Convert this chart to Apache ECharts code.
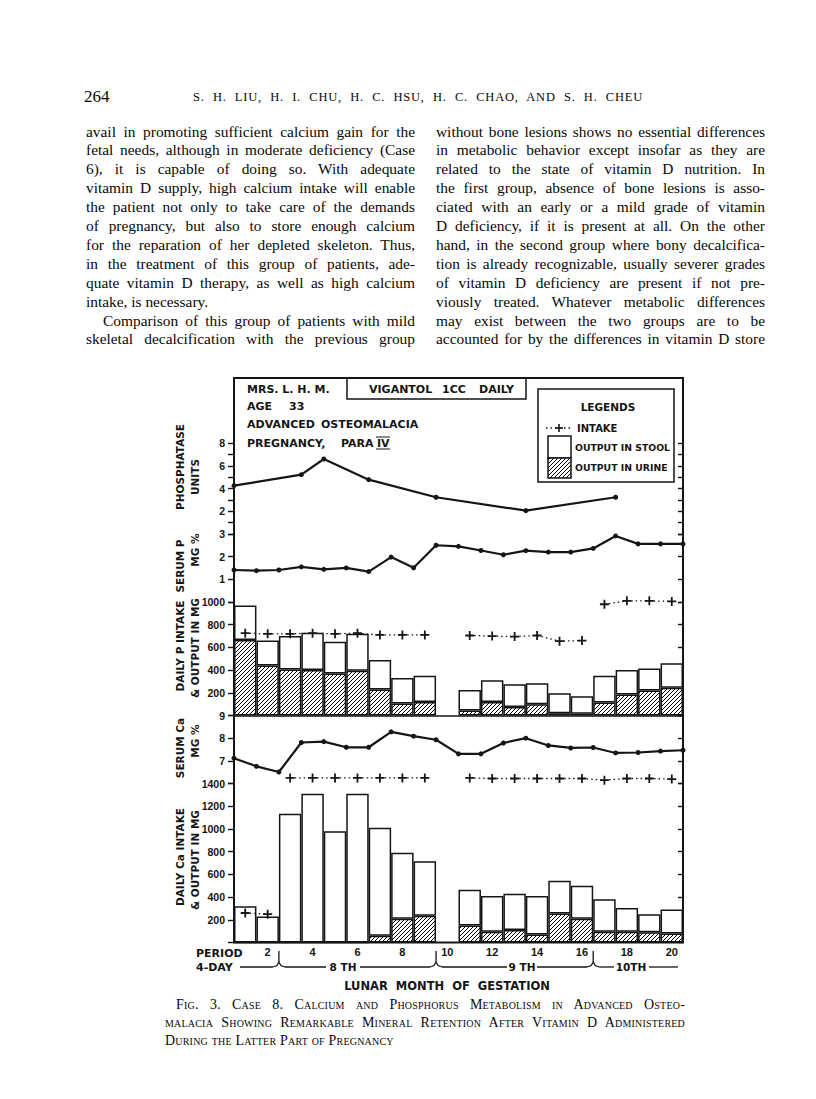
<!DOCTYPE html>
<html><head><meta charset="utf-8">
<script src="https://cdn.jsdelivr.net/npm/echarts/dist/echarts.min.js"></script>
<style>
html,body{margin:0;padding:0;background:#fff;}
#page{position:relative;width:816px;height:1099px;overflow:hidden;background:#fff;}
#chart{position:absolute;left:0;top:0;width:816px;height:1099px;}
.ln{position:absolute;font-family:"Liberation Serif","Times New Roman",serif;color:#080808;white-space:normal;text-align:justify;}
</style></head><body>
<div id="page"><div id="chart"></div></div>
<script>
// ---------- DATA ----------
const periods = ['1','2','3','4','5','6','7','8','9','10','11','12','13','14','15','16','17','18','19','20'];
const periodLabels = ['2','4','6','8','10','12','14','16','18','20'];
// serum values are plotted at period boundaries 0..20
const phosphataseAt = [0, 3, 4, 6, 9, 13, 17];
const phosphatase = [4.25, 5.22, 6.6, 4.78, 3.23, 2.05, 3.23];
const serumP = [1.41,1.38,1.41,1.55,1.44,1.50,1.34,1.98,1.51,2.50,2.45,2.27,2.08,2.26,2.20,2.20,2.36,2.91,2.56,2.56,2.56];
const pUrine = [665,440,405,400,370,395,230,105,120,null,45,120,75,100,20,15,115,185,220,245];
const pStool = [305,220,295,330,280,325,260,225,230,null,180,190,200,185,175,155,235,215,195,215];
const pIntake = [725,720,720,725,720,725,710,710,710,null,705,700,695,705,655,660,980,1010,1010,1005];
const pIntakeRuns = [[0,8],[10,15],[16,19]];
const serumCa = [7.12,6.76,6.51,7.81,7.85,7.60,7.60,8.28,8.09,7.93,7.31,7.31,7.79,8.00,7.68,7.57,7.59,7.35,7.37,7.43,7.47];
const caUrine = [0,0,0,0,0,0,60,210,235,null,150,95,110,70,255,210,95,95,90,80];
const caStool = [320,230,1135,1310,980,1310,950,580,480,null,315,315,320,340,290,290,285,210,160,210];
const caIntake = [260,250,1450,1450,1450,1450,1450,1450,1450,null,1450,1445,1445,1445,1445,1445,1430,1445,1445,1440];
const caIntakeRuns = [[0,1],[2,8],[10,19]];
const phosLabels = [2,4,6,8];
const serumPLabels = [1,2,3];
const pLabels = [200,400,600,800,1000];
const serumCaLabels = [7,8,9];
const caLabels = [200,400,600,800,1000,1200,1400];

// ---------- PAGE TEXT ----------
const leftLines = [
 "avail in promoting sufficient calcium gain for the",
 "fetal needs, although in moderate deficiency (Case",
 "6), it is capable of doing so.  With adequate",
 "vitamin D supply, high calcium intake will enable",
 "the patient not only to take care of the demands",
 "of pregnancy, but also to store enough calcium",
 "for the reparation of her depleted skeleton.  Thus,",
 "in the treatment of this group of patients, ade-",
 "quate vitamin D therapy, as well as high calcium",
 "intake, is necessary.",
 "Comparison of this group of patients with mild",
 "skeletal decalcification with the previous group"];
const rightLines = [
 "without bone lesions shows no essential differences",
 "in metabolic behavior except insofar as they are",
 "related to the state of vitamin D nutrition.  In",
 "the first group, absence of bone lesions is asso-",
 "ciated with an early or a mild grade of vitamin",
 "D deficiency, if it is present at all.  On the other",
 "hand, in the second group where bony decalcifica-",
 "tion is already recognizable, usually severer grades",
 "of vitamin D deficiency are present if not pre-",
 "viously treated.  Whatever metabolic differences",
 "may exist between the two groups are to be",
 "accounted for by the differences in vitamin D store"];
const captionLines = [
 "Fig. 3. Case 8. Calcium and Phosphorus Metabolism in Advanced Osteo-",
 "malacia Showing Remarkable Mineral Retention After Vitamin D Administered",
 "During the Latter Part of Pregnancy"];

const page = document.getElementById('page');
function addLine(text, x, y, w, o) {
  const d = document.createElement('div');
  d.className = 'ln';
  const lh = o.lh || 19;
  let fs = o.fs || 15;
  d.style.left = x + 'px';
  d.style.top = (y - lh/2) + 'px';
  d.style.width = w + 'px';
  d.style.lineHeight = lh + 'px';
  d.style.fontSize = fs + 'px';
  d.style.textAlignLast = o.justify ? 'justify' : 'left';
  if (o.indent) d.style.textIndent = o.indent + 'px';
  if (o.sc) d.style.fontVariant = 'small-caps';
  if (o.ls) d.style.letterSpacing = o.ls + 'px';
  if (o.weight) d.style.fontWeight = o.weight;
  d.textContent = text;
  page.appendChild(d);
  while (d.scrollHeight > lh * 1.4 && fs > 8) { fs -= 0.25; d.style.fontSize = fs + 'px'; }
  return d;
}
addLine('264', 84, 97, 40, {fs:17, lh:20, justify:false});
addLine('S. H. LIU, H. I. CHU, H. C. HSU, H. C. CHAO, AND S. H. CHEU', 193, 97, 450, {fs:12.5, lh:18, justify:true, ls:0.8});
leftLines.forEach((t,i) => addLine(t, 86, 131 + 18.9*i, 329, {fs:15.4, justify: i !== 9, indent: i === 10 ? 17 : 0}));
rightLines.forEach((t,i) => addLine(t, 436, 131 + 18.9*i, 329, {fs:15.4, justify: true}));
captionLines.forEach((t,i) => addLine(t, 165, 1005 + 18*i, 520, {fs:14, lh:18, sc:true, justify: i < 2, indent: i === 0 ? 11 : 0, ls:0.2}));

// ---------- CHART ----------
const ink = '#151515';
const LET = 'DejaVu Sans, Liberation Sans, sans-serif';
const NUM = 'Liberation Sans, Arial, sans-serif';
function hatchCanvas() {
  const s = 4, c = document.createElement('canvas');
  c.width = s; c.height = s;
  const g = c.getContext('2d');
  g.fillStyle = '#fff'; g.fillRect(0,0,s,s);
  g.strokeStyle = '#000'; g.lineWidth = 1;
  g.beginPath();
  g.moveTo(-1, s+1); g.lineTo(s+1, -1);
  g.moveTo(-1, 1); g.lineTo(1, -1);
  g.moveTo(s-1, s+1); g.lineTo(s+1, s-1);
  g.stroke();
  return c;
}
const HATCH = {image: hatchCanvas(), repeat: 'repeat'};

const chart = echarts.init(document.getElementById('chart'), null, {renderer:'svg', width:816, height:1099});
const L = 234, R = 683, TOP = 378, BASE = 942.5, U = 22.7, W = R - L;
function gridBox(topU, botU) { return {left: L, width: W, top: BASE - topU*U, height: (topU - botU)*U}; }
const grid = [gridBox(22,18), gridBox(18,15), gridBox(15,10), gridBox(10,7), gridBox(7,0)];

function yPair(gi, min, max, interval, labels) {
  const lab = {show:true, margin:9, fontSize:10.5, fontWeight:'bold', fontFamily:NUM, color:ink,
               formatter: v => labels.indexOf(v) >= 0 ? String(v) : ''};
  return [
    {gridIndex:gi, type:'value', min, max, interval, position:'left',
     axisLine:{show:false}, splitLine:{show:false},
     axisTick:{show:true, inside:false, length:6, lineStyle:{color:ink, width:1.4}}, axisLabel:lab},
    {gridIndex:gi, type:'value', min, max, interval, position:'right',
     axisLine:{show:false}, splitLine:{show:false},
     axisTick:{show:true, inside:true, length:5, lineStyle:{color:ink, width:1.4}}, axisLabel:{show:false}}
  ];
}
const yAxis = [].concat(
  yPair(0, 0, 8, 1, phosLabels),
  yPair(1, 0, 3, 1, serumPLabels),
  yPair(2, 0, 1000, 200, pLabels),
  yPair(3, 6, 9, 1, serumCaLabels),
  yPair(4, 0, 1400, 200, caLabels)
);
const xAxis = [
  {gridIndex:0, type:'value', min:0, max:20, show:false},
  {gridIndex:1, type:'value', min:0, max:20, show:false},
  {gridIndex:2, type:'category', data:periods, boundaryGap:true,
   axisLine:{show:true, onZero:false, lineStyle:{color:ink, width:1.6}}, axisTick:{show:false}, axisLabel:{show:false}},
  {gridIndex:3, type:'value', min:0, max:20, show:false},
  {gridIndex:4, type:'category', data:periods, boundaryGap:true,
   axisLine:{show:false}, axisTick:{show:false},
   axisLabel:{show:true, interval:0, margin:4, fontSize:11, fontWeight:'bold', fontFamily:NUM, color:ink,
              formatter: v => periodLabels.indexOf(v) >= 0 ? v : ''}}
];

function serumLine(xi, yi, data) {
  return {type:'line', xAxisIndex:xi, yAxisIndex:yi, data, clip:false, z:5,
          symbol:'circle', symbolSize:5, itemStyle:{color:ink}, lineStyle:{color:ink, width:2.2}};
}
const PLUS = 'path://M4,0H6V4H10V6H6V10H4V6H0V4H4Z';
function intakeRuns(xi, yi, values, runs) {
  return runs.map(([a,b]) => ({type:'line', xAxisIndex:xi, yAxisIndex:yi, clip:false, z:6,
    data: values.map((v,i) => (i >= a && i <= b) ? v : null),
    symbol:PLUS, symbolSize:9, itemStyle:{color:ink},
    lineStyle:{color:ink, width:1.3, type:[1.5,3]}}));
}
function bars(xi, yi, stack, urine, stool) {
  const base = {type:'bar', xAxisIndex:xi, yAxisIndex:yi, stack, barCategoryGap:'0%', z:2};
  return [
    Object.assign({}, base, {data:urine, itemStyle:{color:HATCH, borderColor:ink, borderWidth:1.5}}),
    Object.assign({}, base, {data:stool, itemStyle:{color:'#fff', borderColor:ink, borderWidth:1.5}})
  ];
}
const series = [].concat(
  [serumLine(0, 0, phosphataseAt.map((k,i) => [k, phosphatase[i]]))],
  [serumLine(1, 2, serumP.map((v,k) => [k, v]))],
  bars(2, 4, 'P', pUrine, pStool),
  intakeRuns(2, 4, pIntake, pIntakeRuns),
  [serumLine(3, 6, serumCa.map((v,k) => [k, v]))],
  bars(4, 8, 'Ca', caUrine, caStool),
  intakeRuns(4, 8, caIntake, caIntakeRuns)
);

// ---------- DECORATION (frame, labels, legend, month scale) ----------
function T(x, y, s, o) {
  o = o || {};
  return {type:'text', x, y, rotation:o.rot || 0, z:50,
    style:{text:s, x:0, y:0, fill:ink, fontFamily:o.family || LET, fontWeight:'bold', fontSize:o.size || 11,
           align:o.align || 'left', verticalAlign:'middle', textAlign:o.align || 'left', textVerticalAlign:'middle'}};
}
function Ln(x1, y1, x2, y2, w, dash) {
  return {type:'line', z:50, shape:{x1,y1,x2,y2}, style:{stroke:ink, lineWidth:w || 1.4, lineDash:dash || null}};
}
function Rc(x, y, w, h, fill, lw) {
  return {type:'rect', z:50, shape:{x, y, width:w, height:h}, style:{fill:fill || 'none', stroke:ink, lineWidth:lw || 1.5}};
}
const bx = k => L + W*k/20;
function bracket(b) {
  return [
    {type:'polyline', z:50, shape:{points:[[b-6,967],[b-2,965.5],[b,962],[b,951]]}, style:{fill:'none', stroke:ink, lineWidth:1.3}},
    {type:'polyline', z:50, shape:{points:[[b,962],[b+2,965.5],[b+6,967]]}, style:{fill:'none', stroke:ink, lineWidth:1.3}}
  ];
}
const rot = Math.PI/2;
const graphic = [
  Rc(L, TOP, W, BASE - TOP, 'none', 2),
  // heading
  Rc(347, TOP, 179, 21, 'none', 1.5),
  T(247, 389, 'MRS. L. H. M.'),
  T(369, 389, 'VIGANTOL'), T(442, 389, '1CC'), T(479, 389, 'DAILY'),
  T(247, 406, 'AGE'), T(289, 406, '33'),
  T(247, 424, 'ADVANCED'), T(321, 424, 'OSTEOMALACIA'),
  T(247, 443, 'PREGNANCY,'), T(341, 443, 'PARA'), T(377, 443, 'IV'),
  Ln(376, 437, 390, 437, 1), Ln(376, 449, 390, 449, 1),
  // legend
  Rc(538, 389, 136, 93, '#fff', 1.5),
  T(608, 407, 'LEGENDS', {align:'center', size:10.5}),
  Ln(546, 428, 572, 428, 1.3, [1.5,3]),
  Ln(559, 424, 559, 432, 1.6), Ln(555, 428, 563, 428, 1.6),
  T(577, 428, 'INTAKE', {size:10}),
  Rc(548, 436, 23, 22, '#fff', 1.5),
  Rc(548, 458, 23, 20, HATCH, 1.5),
  T(575, 447, 'OUTPUT IN STOOL', {size:9.3}),
  T(575, 467, 'OUTPUT IN URINE', {size:9.3}),
  // axis titles
  T(180, 467, 'PHOSPHATASE', {rot, align:'center', size:10.5}),
  T(195, 477, 'UNITS', {rot, align:'center', size:10.5}),
  T(180, 566, 'SERUM P', {rot, align:'center', size:10.5}),
  T(195, 550, 'MG %', {rot, align:'center', size:10.5}),
  T(180, 646, 'DAILY P INTAKE', {rot, align:'center', size:10.5}),
  T(195, 648, '& OUTPUT IN MG', {rot, align:'center', size:10.5}),
  T(180, 748, 'SERUM Ca', {rot, align:'center', size:10.5}),
  T(195, 741, 'MG %', {rot, align:'center', size:10.5}),
  T(180, 857, 'DAILY Ca INTAKE', {rot, align:'center', size:10.5}),
  T(195, 860, '& OUTPUT IN MG', {rot, align:'center', size:10.5}),
  // period / month scale
  T(196, 953, 'PERIOD', {size:11}),
  T(196, 967, '4-DAY', {size:11}),
  Ln(240, 967, bx(2) - 6, 967, 1.3),
  Ln(bx(2) + 6, 967, 326, 967, 1.3), T(343, 967, '8 TH', {align:'center', size:10.5}), Ln(360, 967, bx(9) - 6, 967, 1.3),
  Ln(bx(9) + 6, 967, 507, 967, 1.3), T(522, 967, '9 TH', {align:'center', size:10.5}), Ln(537, 967, bx(16) - 6, 967, 1.3),
  Ln(bx(16) + 6, 967, 614, 967, 1.3), T(631, 967, '10TH', {align:'center', size:10.5}), Ln(649, 967, 678, 967, 1.3),
  T(447, 986, 'LUNAR  MONTH  OF  GESTATION', {align:'center', size:11.5})
].concat(bracket(bx(2)), bracket(bx(9)), bracket(bx(16)));

chart.setOption({
  animation:false,
  backgroundColor:'transparent',
  grid, xAxis, yAxis, series, graphic
});
</script>
</body></html>
